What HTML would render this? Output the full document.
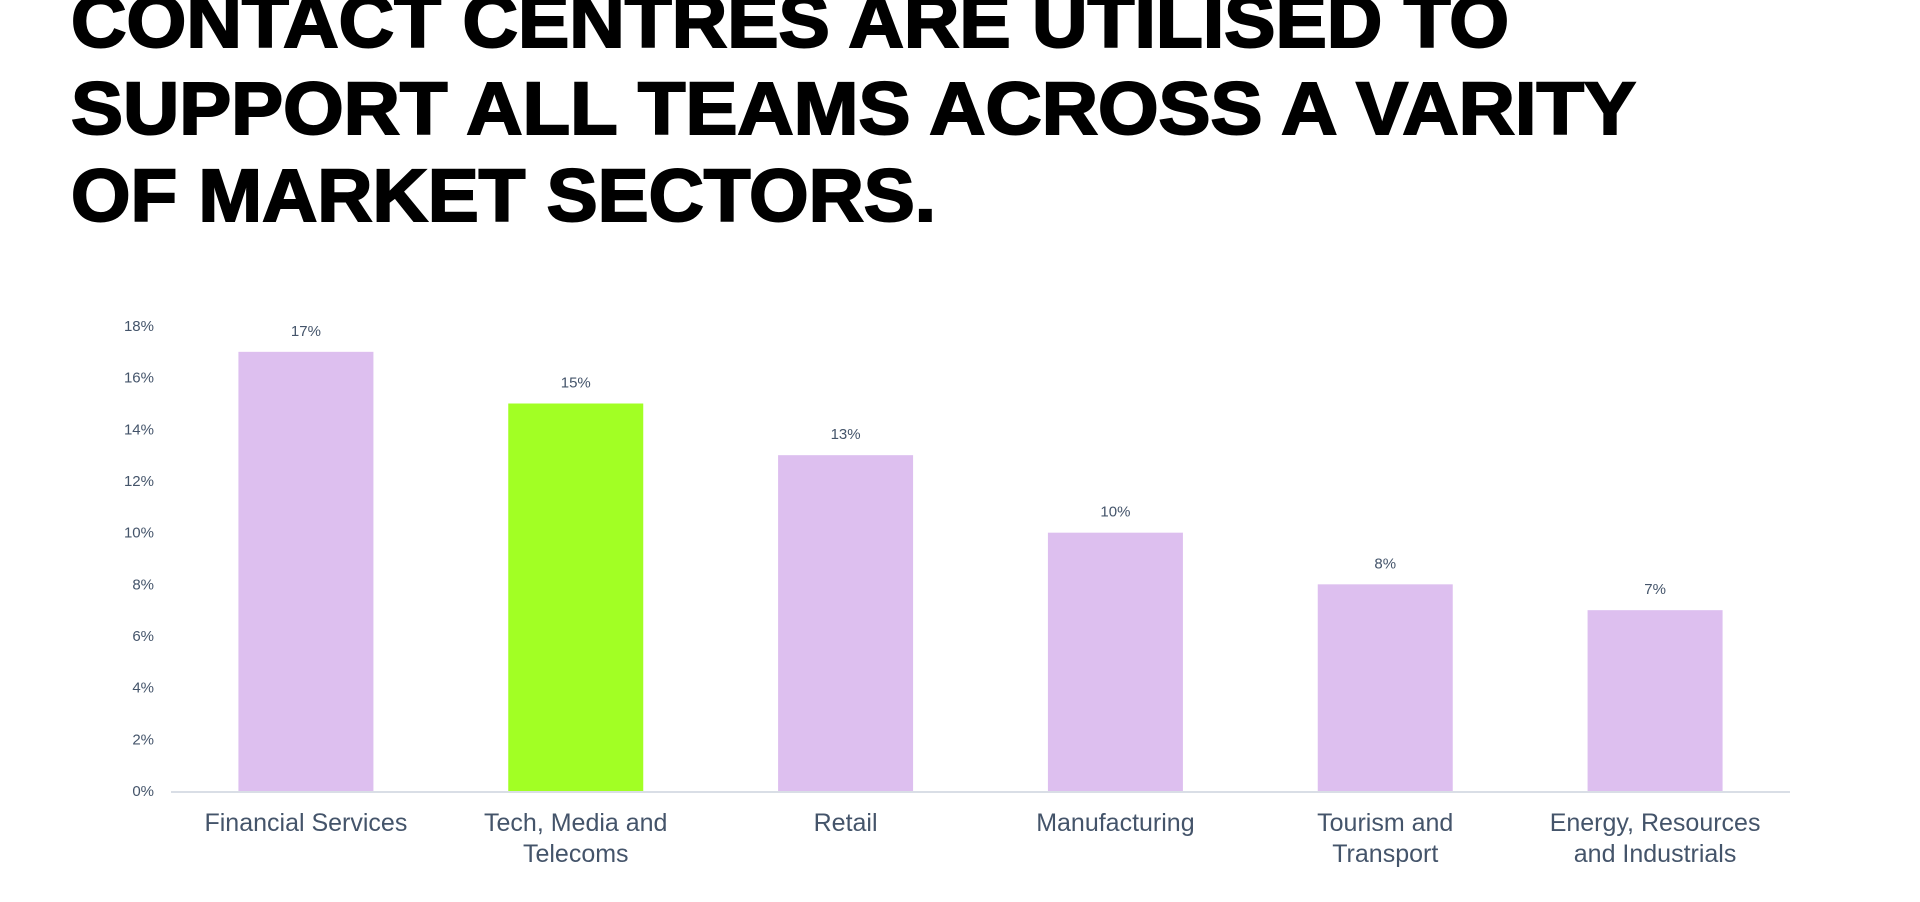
<!DOCTYPE html>
<html><head><meta charset="utf-8"><style>
html,body{margin:0;padding:0;background:#fff;width:1920px;height:902px;overflow:hidden}
svg{display:block}
</style></head><body>
<svg id="chart" width="1920" height="902" xmlns="http://www.w3.org/2000/svg">
<g font-family="'Liberation Sans', Arial, sans-serif" font-weight="900" font-size="74" fill="#000" stroke="#000" stroke-width="2">
<text x="71" y="47" textLength="1438" lengthAdjust="spacingAndGlyphs">CONTACT CENTRES ARE UTILISED TO</text>
<text x="71" y="134" textLength="1565" lengthAdjust="spacingAndGlyphs">SUPPORT ALL TEAMS ACROSS A VARITY</text>
<text x="71" y="221" textLength="865" lengthAdjust="spacingAndGlyphs">OF MARKET SECTORS.</text>
</g>
<g id="plot"></g>
</svg>
<script>
const categories = [["Financial Services"],["Tech, Media and","Telecoms"],["Retail"],["Manufacturing"],["Tourism and","Transport"],["Energy, Resources","and Industrials"]];
const values = [17,15,13,10,8,7];
const highlight = [false,true,false,false,false,false];
const ticks = [0,2,4,6,8,10,12,14,16,18];

const NS="http://www.w3.org/2000/svg";
const g=document.getElementById('plot');
const x0=171,x1=1790,y0=791,yTop=326,vmax=18;
const y=v=>y0-(y0-yTop)*v/vmax;
const band=(x1-x0)/categories.length;
const xc=i=>x0+band*(i+0.5);
const bw=135;
function mk(tag,attrs,text){const e=document.createElementNS(NS,tag);for(const k in attrs)e.setAttribute(k,attrs[k]);if(text!=null)e.textContent=text;g.appendChild(e);return e;}
const F="'Liberation Sans', Arial, sans-serif";
ticks.forEach(t=>{
  const e=mk('text',{x:154,y:y(t)+5,'text-anchor':'end','font-family':F,'font-size':15,fill:'#44546A'},t+'%');
  
  
});
values.forEach((v,i)=>{
  const r=mk('rect',{x:xc(i)-bw/2,y:y(v),width:bw,height:y0-y(v),fill:highlight[i]?'#A2FF24':'#DDBFEF'});
  
  
  const l=mk('text',{x:xc(i),y:y(v)-16,'text-anchor':'middle','font-family':F,'font-size':15,fill:'#44546A'},v+'%');
  
  
  categories[i].forEach((line,j)=>{
    const c=mk('text',{x:xc(i),y:831+j*31,'text-anchor':'middle','font-family':F,'font-size':25,fill:'#44546A'},line);
    
    
  });
});
const ax=mk('line',{x1:x0,x2:x1,y1:y0+1,y2:y0+1,stroke:'#D9DEE6','stroke-width':2});


</script>
</body></html>
